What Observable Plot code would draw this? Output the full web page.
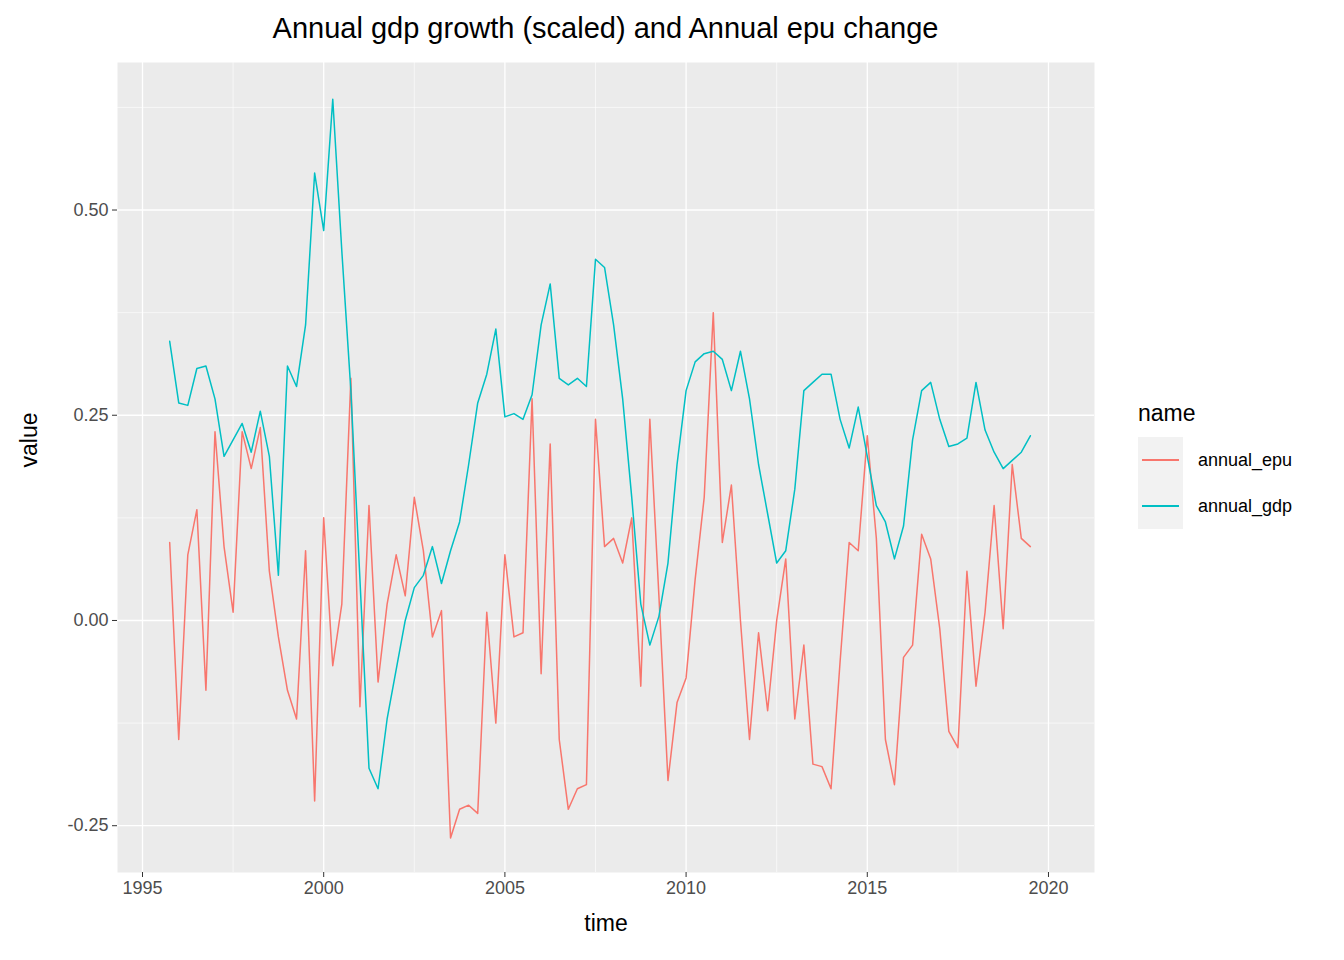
<!DOCTYPE html>
<html>
<head>
<meta charset="utf-8">
<script src="https://cdn.jsdelivr.net/npm/d3@7"></script>
<script src="https://cdn.jsdelivr.net/npm/@observablehq/plot@0.6"></script>
<style>
  body { margin: 0; background: #fff; font-family: "Liberation Sans", Arial, sans-serif; }
  #wrap { position: relative; width: 1344px; height: 960px; }
  #title { position: absolute; left: 117px; width: 977px; top: 12px; text-align: center; font-size: 29px; color: #000; }
  #chart { position: absolute; left: 0; top: 60px; }
  #legend { position: absolute; left: 1138px; top: 400px; color: #000; }
  .key { display: flex; align-items: center; height: 46px; font-size: 18px; }
  .box { width: 45px; height: 46px; background: #F2F2F2; position: relative; margin-right: 15px; }
  .box span { position: absolute; left: 4px; right: 4px; top: 22px; height: 1.5px; }
</style>
</head>
<body>
<div id="wrap">
  <div id="title">Annual gdp growth (scaled) and Annual epu change</div>
  <div id="chart"></div>
  <div id="legend">
    <div style="font-size:23px;margin-bottom:10px">name</div>
    <div class="key"><div class="box"><span style="background:#F8766D"></span></div>annual_epu</div>
    <div class="key"><div class="box"><span style="background:#00BFC4"></span></div>annual_gdp</div>
  </div>
</div>
<script>
// quarterly, 1995 Q4 .. 2019 Q3
const start = 1995.75;
const annual_gdp = [
  0.34,
  0.265, 0.262, 0.307, 0.31,
  0.27, 0.20, 0.22, 0.24,
  0.205, 0.255, 0.20, 0.055,
  0.31, 0.285, 0.36, 0.545,
  0.475, 0.635, 0.45, 0.28,
  0.05, -0.18, -0.205, -0.12,
  -0.06, 0.0, 0.04, 0.055,
  0.09, 0.045, 0.085, 0.12,
  0.19, 0.265, 0.30, 0.355,
  0.248, 0.252, 0.245, 0.275,
  0.36, 0.41, 0.295, 0.287,
  0.295, 0.285, 0.44, 0.43,
  0.36, 0.27, 0.15, 0.02,
  -0.03, 0.005, 0.07, 0.19,
  0.28, 0.315, 0.325, 0.328,
  0.318, 0.28, 0.328, 0.27,
  0.19, 0.13, 0.07, 0.085,
  0.16, 0.28, 0.29, 0.30,
  0.30, 0.245, 0.21, 0.26,
  0.20, 0.14, 0.12, 0.075,
  0.115, 0.22, 0.28, 0.29,
  0.245, 0.212, 0.215, 0.222,
  0.29, 0.232, 0.205, 0.185,
  0.195, 0.205, 0.225
];
const annual_epu = [
  0.095,
  -0.145, 0.08, 0.135, -0.085,
  0.23, 0.09, 0.01, 0.23,
  0.185, 0.235, 0.06, -0.02,
  -0.085, -0.12, 0.085, -0.22,
  0.125, -0.055, 0.02, 0.295,
  -0.105, 0.14, -0.075, 0.02,
  0.08, 0.03, 0.15, 0.085,
  -0.02, 0.012, -0.265, -0.23,
  -0.225, -0.235, 0.01, -0.125,
  0.08, -0.02, -0.015, 0.27,
  -0.065, 0.215, -0.145, -0.23,
  -0.205, -0.2, 0.245, 0.09,
  0.1, 0.07, 0.125, -0.08,
  0.245, 0.03, -0.195, -0.10,
  -0.07, 0.05, 0.15, 0.375,
  0.095, 0.165, 0.0, -0.145,
  -0.015, -0.11, 0.0, 0.075,
  -0.12, -0.03, -0.175, -0.178,
  -0.205, -0.05, 0.095, 0.085,
  0.225, 0.1, -0.145, -0.2,
  -0.045, -0.03, 0.105, 0.075,
  -0.01, -0.135, -0.155, 0.06,
  -0.08, 0.01, 0.14, -0.01,
  0.19, 0.10, 0.09
];
const xTicks = [1995, 2000, 2005, 2010, 2015, 2020];
const xMinor = [1997.5, 2002.5, 2007.5, 2012.5, 2017.5];
const yTicks = [-0.25, 0, 0.25, 0.5];
const yMinor = [-0.125, 0.125, 0.375, 0.625];

const rows = [];
annual_epu.forEach((v, i) => rows.push({time: start + i / 4, value: v, name: "annual_epu"}));
annual_gdp.forEach((v, i) => rows.push({time: start + i / 4, value: v, name: "annual_gdp"}));

const fmtY = d => d.toFixed(2);

const chart = Plot.plot({
  width: 1344,
  height: 900,
  marginLeft: 117,
  marginRight: 250,
  marginTop: 2,
  marginBottom: 88,
  style: {fontFamily: "Liberation Sans, Arial, sans-serif", fontSize: "18px", background: "#fff"},
  x: {domain: [1994.31, 2021.27], label: null},
  y: {domain: [-0.307, 0.6797], label: null},
  color: {domain: ["annual_epu", "annual_gdp"], range: ["#F8766D", "#00BFC4"]},
  marks: [
    Plot.frame({fill: "#EBEBEB", stroke: null}),
    Plot.gridX(xMinor, {stroke: "#fff", strokeOpacity: 1, strokeWidth: 0.6}),
    Plot.gridY(yMinor, {stroke: "#fff", strokeOpacity: 1, strokeWidth: 0.6}),
    Plot.gridX(xTicks, {stroke: "#fff", strokeOpacity: 1, strokeWidth: 1.3}),
    Plot.gridY(yTicks, {stroke: "#fff", strokeOpacity: 1, strokeWidth: 1.3}),
    Plot.axisX(xTicks, {tickFormat: d3.format("d"), color: "#4D4D4D", stroke: "#333", fontSize: 18, tickSize: 5, tickPadding: 4, label: null}),
    Plot.axisY(yTicks, {tickFormat: fmtY, color: "#4D4D4D", stroke: "#333", fontSize: 18, tickSize: 5, tickPadding: 4, label: null}),
    Plot.line(rows, {x: "time", y: "value", stroke: "name", z: "name", strokeWidth: 1.5}),
    Plot.text(["time"], {frameAnchor: "bottom", dy: 58, fontSize: 23, fill: "#000"}),
    Plot.text(["value"], {frameAnchor: "left", dx: -88, rotate: -90, fontSize: 23, fill: "#000"})
  ]
});
document.getElementById("chart").append(chart);
</script>
</body>
</html>
